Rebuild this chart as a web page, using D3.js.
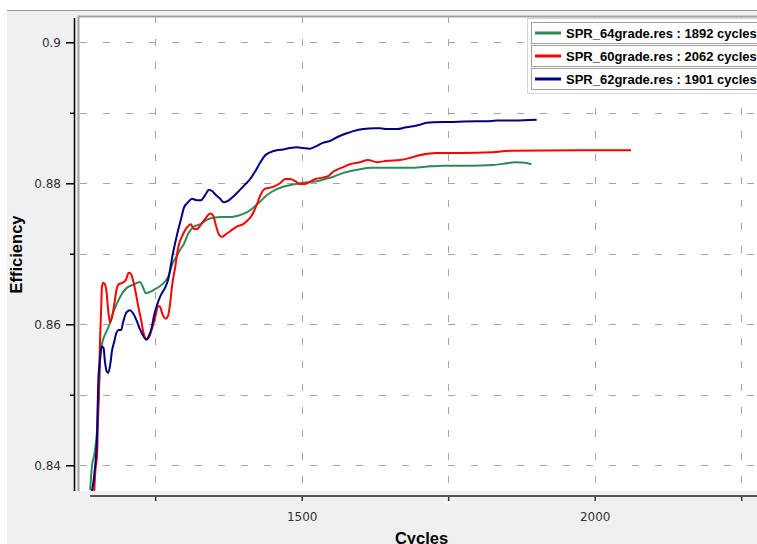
<!DOCTYPE html>
<html>
<head>
<meta charset="utf-8">
<script src="https://cdn.jsdelivr.net/npm/d3@7"></script>
<style>
  html, body { margin: 0; padding: 0; background: #ffffff; }
  svg { display: block; }
</style>
</head>
<body>
<svg id="chart" width="757" height="544"></svg>
<script>
// Run files, their cycle counts and line colours
const seriesNames = ["SPR_64grade.res", "SPR_60grade.res", "SPR_62grade.res"];
const seriesCycleCounts = [1892, 2062, 1901];
const seriesColors = ["#2e8b57", "#ff0000", "#000080"];

// SPR_64grade
const cycles64 = [1139, 1142, 1146, 1148, 1151, 1152, 1154, 1155, 1156, 1158, 1161, 1166, 1173, 1178, 1185, 1193, 1202, 1212, 1224, 1229, 1234, 1241, 1250, 1258, 1267, 1272, 1280, 1287, 1292, 1299, 1306, 1315, 1327, 1338, 1349, 1364, 1378, 1395, 1407, 1417, 1429, 1439, 1449, 1468, 1483, 1497, 1514, 1526, 1540, 1553, 1569, 1582, 1600, 1617, 1651, 1690, 1719, 1741, 1787, 1826, 1847, 1864, 1881, 1892];
const eff64 = [0.8365, 0.8398, 0.8415, 0.8426, 0.8454, 0.8478, 0.8503, 0.8525, 0.8549, 0.8566, 0.8578, 0.8588, 0.8602, 0.8616, 0.8630, 0.8643, 0.8652, 0.8656, 0.8660, 0.8653, 0.8644, 0.8646, 0.8650, 0.8654, 0.8661, 0.8667, 0.8687, 0.8697, 0.8705, 0.8714, 0.8728, 0.8738, 0.8742, 0.8748, 0.8751, 0.8752, 0.8752, 0.8755, 0.8759, 0.8765, 0.8774, 0.8782, 0.8788, 0.8795, 0.8798, 0.8800, 0.8802, 0.8803, 0.8806, 0.8809, 0.8814, 0.8817, 0.8820, 0.8822, 0.8822, 0.8822, 0.8824, 0.8825, 0.8825, 0.8826, 0.8828, 0.8830, 0.8829, 0.8827];

// SPR_60grade
const cycles60 = [1146, 1148, 1151, 1152, 1154, 1155, 1156, 1158, 1159, 1161, 1164, 1167, 1170, 1173, 1176, 1180, 1184, 1188, 1195, 1200, 1205, 1209, 1212, 1217, 1221, 1226, 1230, 1235, 1239, 1245, 1250, 1255, 1258, 1263, 1268, 1272, 1275, 1279, 1284, 1289, 1297, 1304, 1311, 1316, 1321, 1326, 1335, 1344, 1349, 1354, 1359, 1364, 1371, 1378, 1390, 1400, 1407, 1413, 1419, 1424, 1429, 1437, 1451, 1463, 1472, 1480, 1489, 1497, 1506, 1514, 1523, 1536, 1545, 1553, 1562, 1571, 1582, 1600, 1613, 1629, 1646, 1668, 1685, 1697, 1731, 1770, 1826, 1855, 1975, 2062];
const eff60 = [0.8363, 0.8393, 0.8417, 0.8454, 0.8503, 0.8549, 0.8578, 0.8627, 0.8652, 0.8659, 0.8657, 0.8646, 0.8618, 0.8603, 0.8609, 0.8627, 0.8649, 0.8657, 0.8659, 0.8663, 0.8673, 0.8671, 0.8663, 0.8644, 0.8626, 0.8606, 0.8588, 0.8579, 0.8581, 0.8595, 0.8610, 0.8626, 0.8625, 0.8613, 0.8608, 0.8612, 0.8626, 0.8656, 0.8680, 0.8708, 0.8727, 0.8737, 0.8742, 0.8735, 0.8735, 0.8739, 0.8749, 0.8757, 0.8754, 0.8739, 0.8727, 0.8724, 0.8728, 0.8732, 0.8739, 0.8742, 0.8747, 0.8752, 0.8761, 0.8771, 0.8782, 0.8792, 0.8795, 0.8800, 0.8806, 0.8806, 0.8803, 0.8799, 0.8799, 0.8802, 0.8806, 0.8808, 0.8810, 0.8816, 0.8820, 0.8823, 0.8827, 0.8830, 0.8833, 0.8830, 0.8832, 0.8833, 0.8836, 0.8839, 0.8843, 0.8843, 0.8844, 0.8846, 0.8847, 0.8847];

// SPR_62grade
const cycles62 = [1142, 1146, 1151, 1152, 1153, 1155, 1157, 1159, 1162, 1164, 1167, 1170, 1174, 1176, 1180, 1184, 1188, 1192, 1195, 1201, 1207, 1212, 1218, 1224, 1230, 1235, 1239, 1244, 1248, 1253, 1260, 1267, 1272, 1276, 1279, 1284, 1289, 1294, 1299, 1306, 1313, 1321, 1328, 1335, 1342, 1347, 1354, 1361, 1367, 1374, 1383, 1395, 1403, 1412, 1420, 1429, 1437, 1446, 1458, 1468, 1480, 1492, 1502, 1514, 1523, 1535, 1548, 1562, 1577, 1588, 1605, 1625, 1634, 1646, 1663, 1676, 1690, 1702, 1714, 1753, 1799, 1816, 1833, 1864, 1901];
const eff62 = [0.8363, 0.8386, 0.8447, 0.8488, 0.8521, 0.8542, 0.8561, 0.8569, 0.8566, 0.8549, 0.8534, 0.8531, 0.8547, 0.8561, 0.8575, 0.8588, 0.8592, 0.8592, 0.8602, 0.8617, 0.8620, 0.8616, 0.8606, 0.8593, 0.8583, 0.8578, 0.8583, 0.8595, 0.8612, 0.8627, 0.8642, 0.8652, 0.8663, 0.8680, 0.8695, 0.8715, 0.8733, 0.8749, 0.8765, 0.8773, 0.8778, 0.8776, 0.8776, 0.8783, 0.8791, 0.8789, 0.8783, 0.8778, 0.8773, 0.8775, 0.8781, 0.8791, 0.8798, 0.8806, 0.8816, 0.8829, 0.8839, 0.8844, 0.8847, 0.8848, 0.8850, 0.8851, 0.8850, 0.8849, 0.8852, 0.8857, 0.8860, 0.8866, 0.8871, 0.8874, 0.8877, 0.8878, 0.8878, 0.8877, 0.8877, 0.8879, 0.8881, 0.8883, 0.8886, 0.8887, 0.8888, 0.8888, 0.8889, 0.8889, 0.8890];

// Axis ticks
const xTickValues = [1250, 1500, 1750, 2000, 2250];
const xLabelValues = [1500, 2000];
const yMajorTicks = [0.84, 0.86, 0.88, 0.9];
const yMinorTicks = [0.85, 0.87, 0.89];
const yGridValues = [0.84, 0.85, 0.86, 0.87, 0.88, 0.89, 0.9];

const allCycles = [cycles64, cycles60, cycles62];
const allEff = [eff64, eff60, eff62];

const W = 757, H = 544;
const plot = { left: 78, top: 16, right: 771, bottom: 491 };

const svg = d3.select("#chart");

const x = d3.scaleLinear().domain([1118.3, 2300]).range([plot.left, 770.5]);
const y = d3.scaleLinear().domain([0.83635, 0.90373]).range([plot.bottom, plot.top]);

// panel background
svg.append("rect").attr("x", 7).attr("y", 10).attr("width", W - 7).attr("height", H - 10)
  .attr("fill", "#f0f0f0");
svg.append("line").attr("x1", 7).attr("x2", W).attr("y1", 10.5).attr("y2", 10.5)
  .attr("stroke", "#9a9a9a").attr("stroke-width", 1);

// plot area
svg.append("rect").attr("x", plot.left).attr("y", plot.top)
  .attr("width", plot.right - plot.left).attr("height", plot.bottom - plot.top)
  .attr("fill", "#ffffff");

svg.append("defs").append("clipPath").attr("id", "plotClip")
  .append("rect").attr("x", plot.left).attr("y", plot.top)
  .attr("width", plot.right - plot.left).attr("height", plot.bottom - plot.top);

// dashed grid
const grid = svg.append("g").attr("stroke", "#a4a4a4").attr("stroke-width", 1)
  .attr("stroke-dasharray", "7,16");
grid.selectAll("line.h").data(yGridValues).join("line").attr("class", "h")
  .attr("x1", plot.left + 2).attr("x2", W)
  .attr("y1", d => Math.round(y(d)) + 0.5).attr("y2", d => Math.round(y(d)) + 0.5);
grid.selectAll("line.v").data(xTickValues).join("line").attr("class", "v")
  .attr("x1", d => Math.round(x(d)) + 0.5).attr("x2", d => Math.round(x(d)) + 0.5)
  .attr("y1", plot.top).attr("y2", plot.bottom);

// plot border (top and left)
svg.append("path")
  .attr("d", `M${plot.left + 0.5},${plot.bottom}V${plot.top + 0.5}H${W}`)
  .attr("fill", "none").attr("stroke", "#a0a0a0").attr("stroke-width", 2);

// efficiency curves
const line = d3.line()
  .x(d => x(d[0])).y(d => y(d[1]))
  .curve(d3.curveMonotoneX);

const curves = svg.append("g").attr("clip-path", "url(#plotClip)");
seriesNames.forEach((name, i) => {
  const pts = allCycles[i].map((c, k) => [c, allEff[i][k]]);
  curves.append("path").datum(pts)
    .attr("fill", "none").attr("stroke", seriesColors[i])
    .attr("stroke-width", 2).attr("stroke-linejoin", "round")
    .attr("d", line);
});

// y axis
const yAxisX = 74;
const yAxisG = svg.append("g").attr("transform", `translate(${yAxisX},0)`);
yAxisG.call(d3.axisLeft(y).tickValues(yMajorTicks).tickSize(8).tickPadding(5)
  .tickFormat(d => String(+d.toFixed(2))));
yAxisG.select(".domain").remove();
const yMinorG = svg.append("g").attr("transform", `translate(${yAxisX},0)`);
yMinorG.call(d3.axisLeft(y).tickValues(yMinorTicks).tickSize(4).tickFormat(""));
yMinorG.select(".domain").remove();
svg.append("line").attr("x1", yAxisX + 0.5).attr("x2", yAxisX + 0.5)
  .attr("y1", 18).attr("y2", plot.bottom)
  .attr("stroke", "#000").attr("stroke-width", 1.5);
svg.selectAll(".tick line").attr("stroke", "#000").attr("stroke-width", 1.5);
yAxisG.selectAll("text").attr("font-family", "'DejaVu Sans', sans-serif")
  .attr("font-size", 12).attr("fill", "#333");

// x axis
const xAxisY = 496;
const xAxisG = svg.append("g").attr("transform", `translate(0,${xAxisY})`);
xAxisG.call(d3.axisBottom(x).tickValues(xTickValues).tickSize(5).tickPadding(11)
  .tickFormat(d => xLabelValues.includes(d) ? String(d) : ""));
xAxisG.select(".domain").remove();
xAxisG.selectAll(".tick line").attr("stroke", "#333").attr("stroke-width", 1.5);
xAxisG.selectAll("text").attr("font-family", "'DejaVu Sans', sans-serif")
  .attr("font-size", 12).attr("fill", "#333");
svg.append("line").attr("x1", x(cycles64[0])).attr("x2", W)
  .attr("y1", xAxisY).attr("y2", xAxisY)
  .attr("stroke", "#555").attr("stroke-width", 2);

// axis titles
svg.append("text").text("Cycles")
  .attr("x", (x(cycles64[0]) + 753) / 2).attr("y", 543.5)
  .attr("text-anchor", "middle")
  .attr("font-family", "'Liberation Sans', Arial, sans-serif")
  .attr("font-weight", "bold").attr("font-size", 16.5).attr("fill", "#000");
svg.append("text").text("Efficiency")
  .attr("transform", `translate(22,${(18 + plot.bottom) / 2}) rotate(-90)`)
  .attr("text-anchor", "middle")
  .attr("font-family", "'Liberation Sans', Arial, sans-serif")
  .attr("font-weight", "bold").attr("font-size", 16.5).attr("fill", "#000");

// legend
const legend = svg.append("g");
legend.append("rect").attr("x", 527.5).attr("y", 18.5).attr("width", 240).attr("height", 75)
  .attr("fill", "#ffffff").attr("stroke", "#d4d4d4");
seriesNames.forEach((name, i) => {
  const top = 22 + i * 23;
  const item = legend.append("g");
  item.append("rect").attr("x", 531.5).attr("y", top + 0.5).attr("width", 240).attr("height", 21)
    .attr("fill", "#ffffff").attr("stroke", "#a0a0a0");
  item.append("line").attr("x1", 535).attr("x2", 561)
    .attr("y1", top + 11).attr("y2", top + 11)
    .attr("stroke", seriesColors[i]).attr("stroke-width", 3);
  item.append("text").text(`${name} : ${seriesCycleCounts[i]} cycles`)
    .attr("x", 566).attr("y", top + 15.5)
    .attr("font-family", "'Liberation Sans', Arial, sans-serif")
    .attr("font-weight", "bold").attr("font-size", 13).attr("fill", "#000");
});
</script>
</body>
</html>
